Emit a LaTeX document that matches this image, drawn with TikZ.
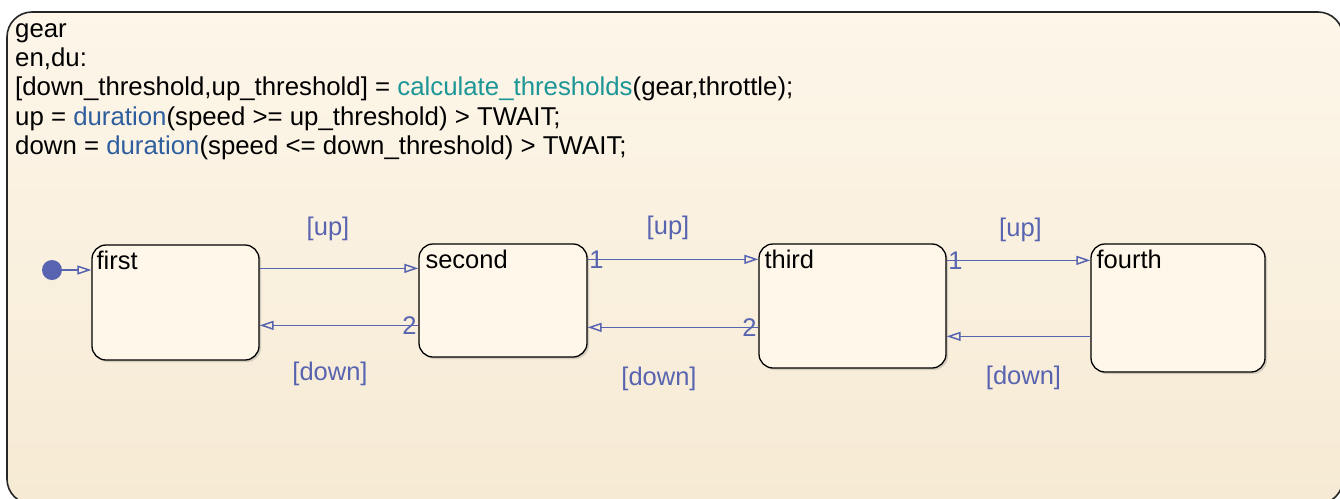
\documentclass[tikz,border=0pt]{standalone}
\usepackage{fontspec}
\setmainfont{Liberation Sans}
\usepackage{tikz}
\usetikzlibrary{arrows.meta, positioning, shadows}
\definecolor{chartTop}{RGB}{253,246,233}
\definecolor{chartBottom}{RGB}{246,234,212}
\definecolor{stateFill}{RGB}{255,248,234}
\definecolor{transBlue}{RGB}{88,100,176}
\definecolor{fnTeal}{RGB}{28,150,150}
\definecolor{fnBlue}{RGB}{46,94,158}
\tikzset{
    chart/.style={rectangle, draw=black!85, line width=1.6pt, rounded corners=25pt, top color=chartTop, bottom color=chartBottom},
    state/.style={rectangle, draw=black, line width=1.3pt, rounded corners=14pt, fill=stateFill, drop shadow={shadow xshift=2pt, shadow yshift=-2pt, opacity=0.3}},
    statename/.style={anchor=north west, inner sep=0pt, font=\fontsize{25.5}{29}\selectfont},
    trans/.style={draw=transBlue, line width=1.5pt, -{Triangle[open, length=14pt, width=9pt]}},
    guard/.style={text=transBlue, font=\fontsize{25.5}{29}\selectfont},
    order/.style={text=transBlue, inner sep=1pt, font=\fontsize{25.5}{29}\selectfont}
}

\begin{document}
\begin{tikzpicture}[x=1pt, y=-1pt]
    \useasboundingbox (0,0) rectangle (1340,498);
    \begin{scope}
    \clip (0,0) rectangle (1340,498);
    % Chart
    \node (gear) [chart, minimum width=1336pt, minimum height=492pt] at (675,258) {};
    \end{scope}
    \node (code) [anchor=north west, inner sep=0pt, align=left, font=\fontsize{25.8}{29.2}\selectfont] at (15,23.5)
        {gear\\
         en,du:\\
         {[down\_threshold,up\_threshold]} = \textcolor{fnTeal}{calculate\_thresholds}(gear,throttle);\\
         up = \textcolor{fnBlue}{duration}(speed >= up\_threshold) > TWAIT;\\
         down = \textcolor{fnBlue}{duration}(speed <= down\_threshold) > TWAIT;};

    % State nodes
    \node (first) [state, minimum width=167pt, minimum height=115pt] at (175.5,302.5) {};
    \node (second) [state, minimum width=168pt, minimum height=113pt] at (503,300.5) {};
    \node (third) [state, minimum width=187pt, minimum height=124pt] at (852.5,306) {};
    \node (fourth) [state, minimum width=174pt, minimum height=128pt] at (1178,308) {};
    \node [statename] at ([xshift=5pt, yshift=-6pt]first.north west) {first};
    \node [statename] at ([xshift=7pt, yshift=-6pt]second.north west) {second};
    \node [statename] at ([xshift=6pt, yshift=-6pt]third.north west) {third};
    \node [statename] at ([xshift=6pt, yshift=-6pt]fourth.north west) {fourth};

    % Default transition
    \node (init) [circle, fill=transBlue, inner sep=0pt, minimum size=20pt] at (52,270) {};
    \draw [trans] (init) -- (first.west |- init);

    % Shifting up
    \draw [trans] ([yshift=-24pt]first.north east) -- node[guard, above=23pt, xshift=-11pt] {[up]} ([yshift=-24pt]first.north east -| second.west);
    \draw [trans] ([yshift=-16pt]second.north east) -- node[order, pos=0, anchor=west] {1} node[guard, above=15pt, xshift=-5pt] {[up]} ([yshift=-16pt]second.north east -| third.west);
    \draw [trans] ([yshift=-17pt]third.north east) -- node[order, pos=0, anchor=west] {1} node[guard, above=14pt, xshift=2pt] {[up]} ([yshift=-17pt]third.north east -| fourth.west);

    % Shifting down
    \draw [trans] ([yshift=-82pt]second.north west) -- node[order, pos=0, anchor=east] {2} node[guard, below=33pt, xshift=-9pt] {[down]} ([yshift=-82pt]second.north west -| first.east);
    \draw [trans] ([yshift=-84pt]third.north west) -- node[order, pos=0, anchor=east] {2} node[guard, below=36pt, xshift=-14pt] {[down]} ([yshift=-84pt]third.north west -| second.east);
    \draw [trans] ([yshift=-93pt]fourth.north west) -- node[guard, below=26pt, xshift=5pt] {[down]} ([yshift=-93pt]fourth.north west -| third.east);
\end{tikzpicture}
\end{document}
